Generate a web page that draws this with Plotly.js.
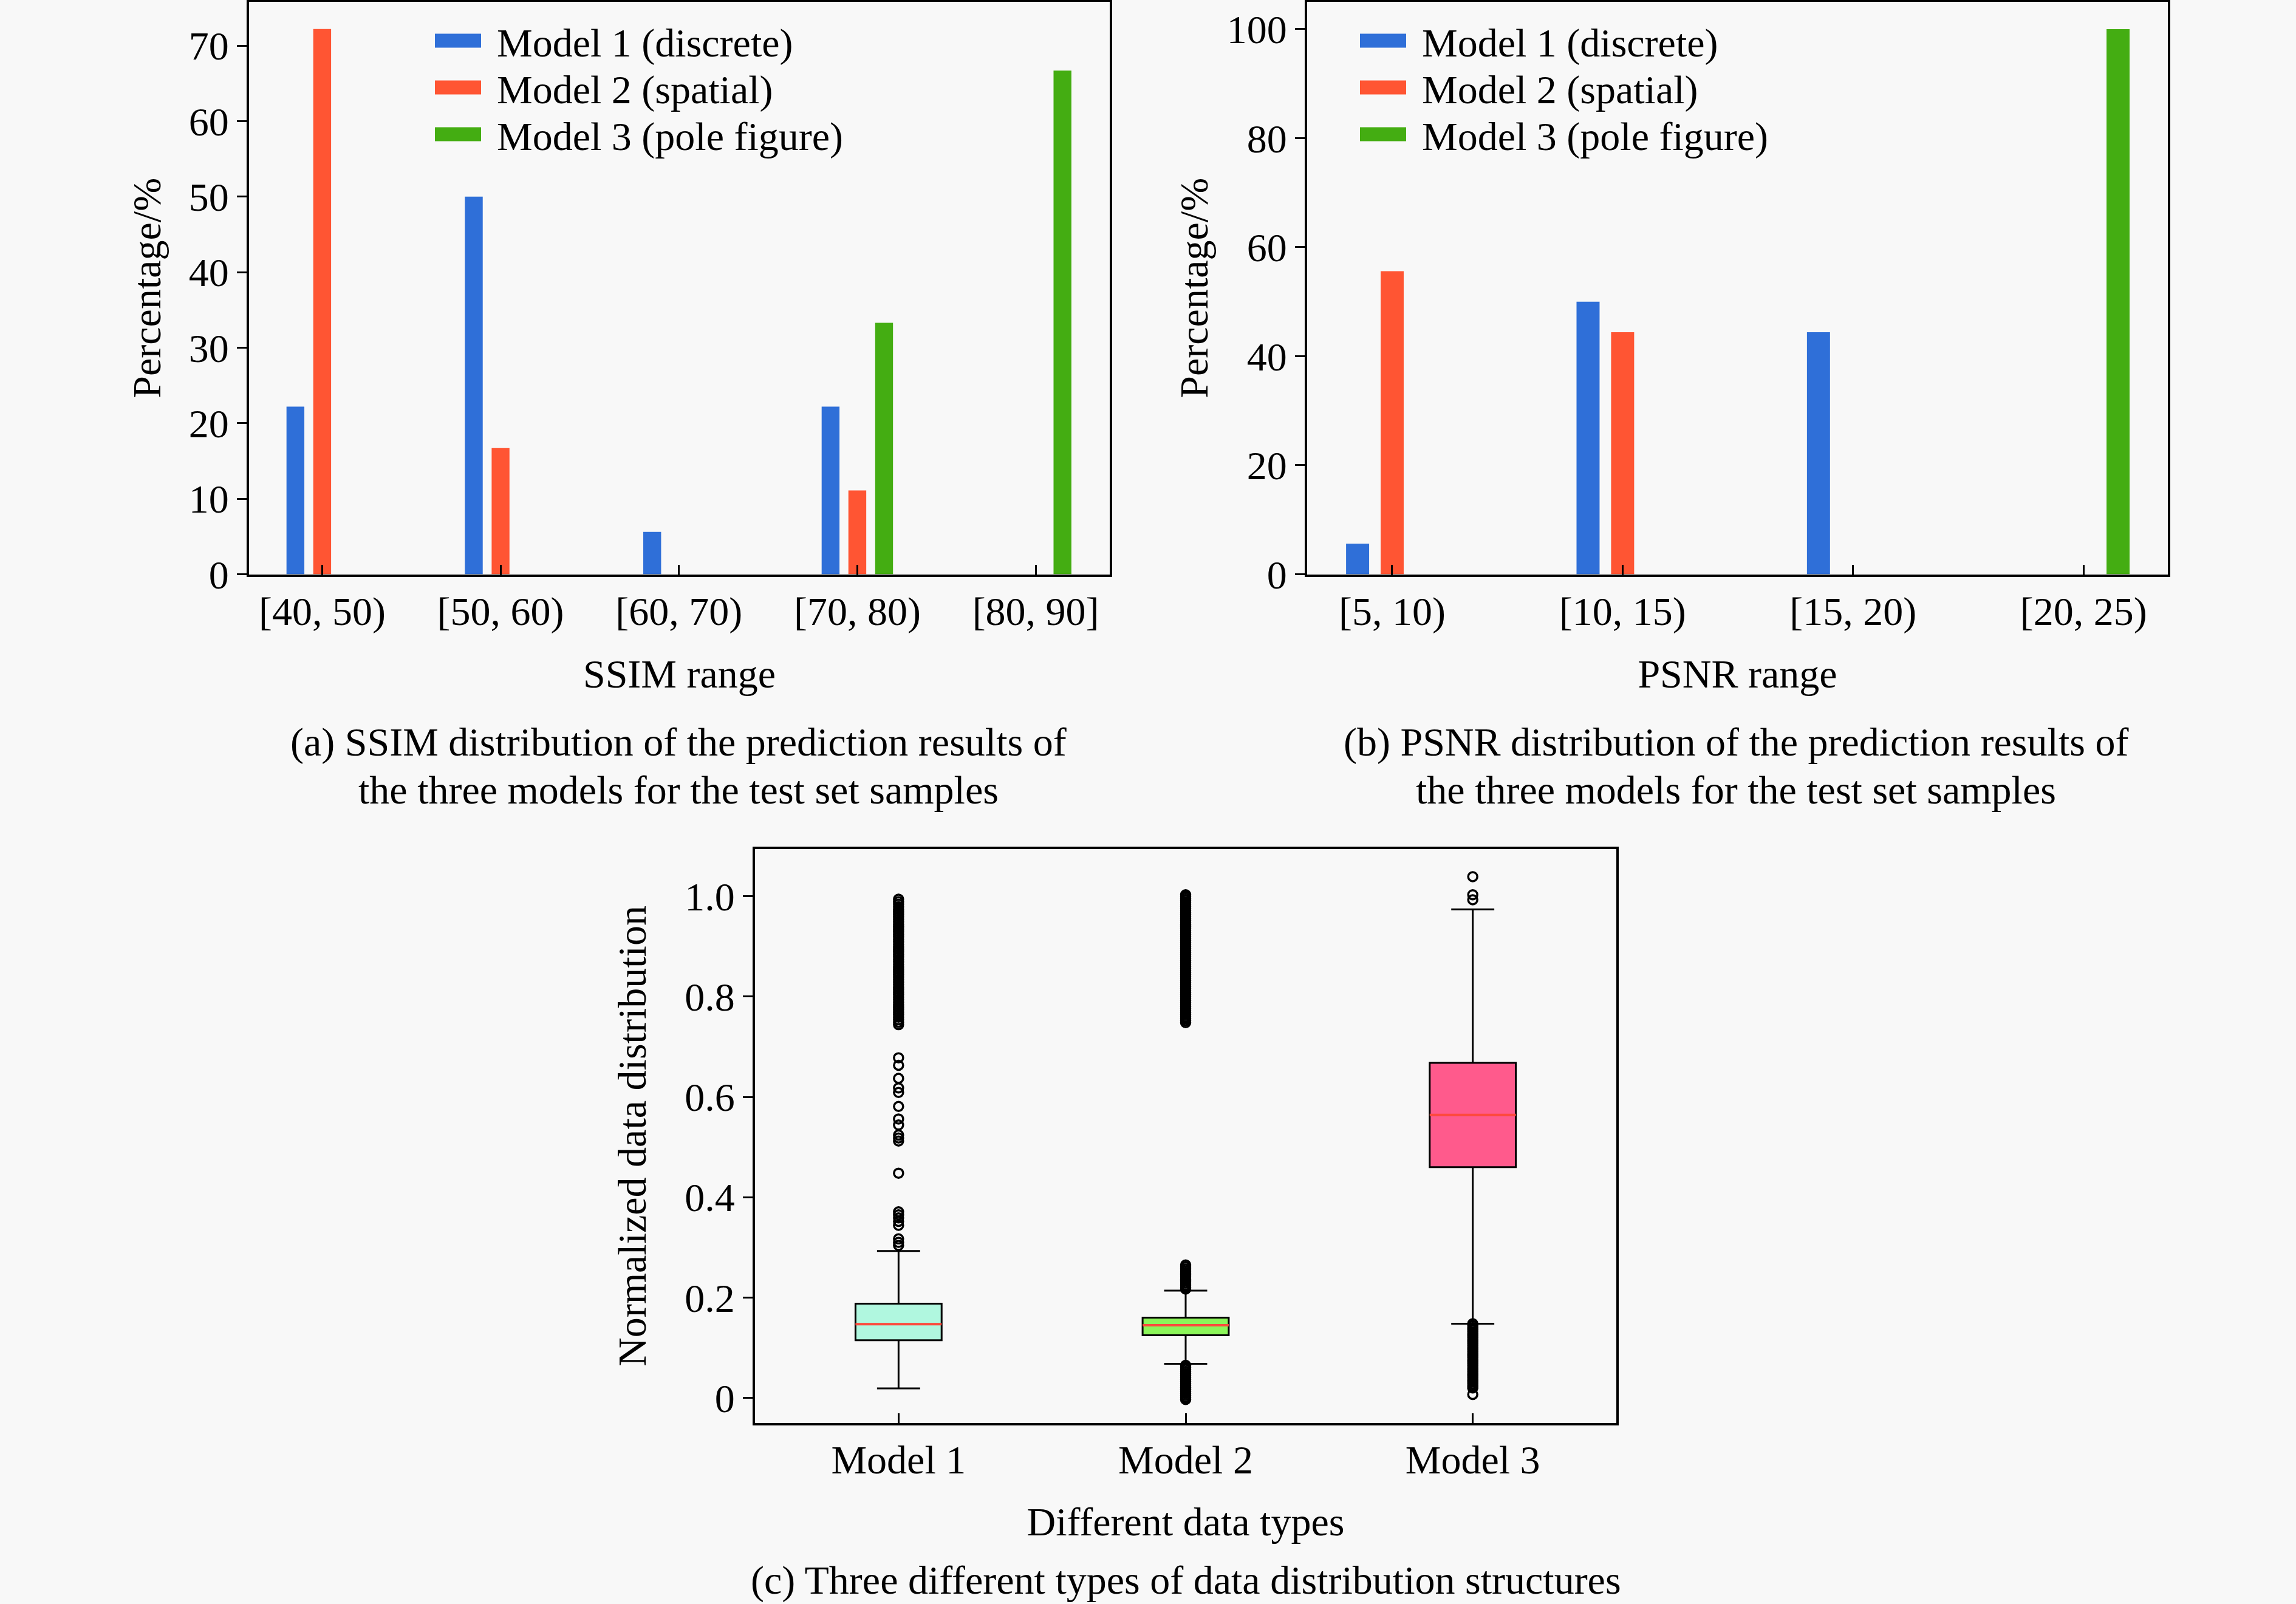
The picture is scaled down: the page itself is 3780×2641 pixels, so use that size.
<!DOCTYPE html>
<html>
<head>
<meta charset="utf-8">
<script src="https://cdn.plot.ly/plotly-3.0.1.min.js"></script>
<style>
  html, body { margin: 0; padding: 0; background: #f8f8f8; }
  #chart { width: 3780px; height: 2641px; }
</style>
</head>
<body>
<div id="chart"></div>
<script>
// (a) SSIM distribution, percentage of test samples per range
const ssimRanges = ["[40, 50)", "[50, 60)", "[60, 70)", "[70, 80)", "[80, 90]"];
const ssimModel1 = [22.2, 50.0, 5.6, 22.2, 0];
const ssimModel2 = [72.2, 16.7, 0, 11.1, 0];
const ssimModel3 = [0, 0, 0, 33.3, 66.7];

// (b) PSNR distribution
const psnrRanges = ["[5, 10)", "[10, 15)", "[15, 20)", "[20, 25)"];
const psnrModel1 = [5.6, 50.0, 44.4, 0];
const psnrModel2 = [55.6, 44.4, 0, 0];
const psnrModel3 = [0, 0, 0, 100];

const seriesNames = ["Model 1 (discrete)", "Model 2 (spatial)", "Model 3 (pole figure)"];

// (c) box plot statistics
const models = ["Model 1", "Model 2", "Model 3"];
const boxQ1 = [0.115, 0.125, 0.460];
const boxMedian = [0.147, 0.145, 0.564];
const boxQ3 = [0.188, 0.160, 0.668];
const boxLower = [0.019, 0.068, 0.148];
const boxUpper = [0.293, 0.214, 0.974];

// outliers (the solid black bands are many overlapping points)
const model1Outliers = [0.304, 0.310, 0.317, 0.344, 0.352, 0.359, 0.365, 0.371,
  0.448, 0.512, 0.518, 0.524, 0.544, 0.556, 0.581, 0.609, 0.618, 0.637, 0.663, 0.678,
  0.744, 0.749, 0.754, 0.759, 0.764, 0.769, 0.774, 0.779, 0.784, 0.789, 0.794, 0.799,
  0.804, 0.809, 0.814, 0.819, 0.824, 0.829, 0.834, 0.839, 0.844, 0.849, 0.854, 0.859,
  0.864, 0.869, 0.874, 0.879, 0.884, 0.889, 0.894, 0.899, 0.904, 0.909, 0.914, 0.919,
  0.924, 0.929, 0.934, 0.939, 0.944, 0.949, 0.954, 0.959, 0.964, 0.969, 0.974, 0.979,
  0.984, 0.989, 0.994];
const model2Outliers = [-0.003, 0.001, 0.005, 0.009, 0.013, 0.017, 0.021, 0.025,
  0.029, 0.033, 0.037, 0.041, 0.045, 0.049, 0.053, 0.057, 0.061, 0.065,
  0.217, 0.221, 0.225, 0.229, 0.233, 0.237, 0.241, 0.245, 0.249, 0.253, 0.257, 0.261, 0.265,
  0.748, 0.752, 0.756, 0.760, 0.764, 0.768, 0.772, 0.776, 0.780, 0.784, 0.788, 0.792,
  0.796, 0.800, 0.804, 0.808, 0.812, 0.816, 0.820, 0.824, 0.828, 0.832, 0.836, 0.840,
  0.844, 0.848, 0.852, 0.856, 0.860, 0.864, 0.868, 0.872, 0.876, 0.880, 0.884, 0.888,
  0.892, 0.896, 0.900, 0.904, 0.908, 0.912, 0.916, 0.920, 0.924, 0.928, 0.932, 0.936,
  0.940, 0.944, 0.948, 0.952, 0.956, 0.960, 0.964, 0.968, 0.972, 0.976, 0.980, 0.984,
  0.988, 0.992, 0.996, 1.000, 1.003];
const model3Outliers = [0.007, 0.020, 0.024, 0.028, 0.032, 0.036, 0.040, 0.044,
  0.048, 0.052, 0.056, 0.060, 0.064, 0.068, 0.072, 0.076, 0.080, 0.084, 0.088, 0.092,
  0.096, 0.100, 0.104, 0.108, 0.112, 0.116, 0.120, 0.124, 0.128, 0.132, 0.136, 0.140,
  0.144, 0.148, 0.993, 1.003, 1.039];

const barColors = ["#2f6fd8", "#ff5533", "#44ad12"];
const boxColors = ["#b0f7df", "#8cf55a", "#ff5a8c"];
const medianColor = "#ff4a3d";

const serif = "Liberation Serif, Times New Roman, serif";
const W = 3780, H = 2641;

// pixel helpers for domains
function xd(left, right) { return [left / W, right / W]; }
function yd(bottom, top) { return [(H - bottom) / H, (H - top) / H]; }

const traces = [];

// every legend row is its own legend so the rows keep the original spacing
const ssimSeries = [ssimModel1, ssimModel2, ssimModel3];
const psnrSeries = [psnrModel1, psnrModel2, psnrModel3];
for (let i = 0; i < 3; i++) {
  traces.push({
    type: "bar", x: ssimRanges, y: ssimSeries[i], name: seriesNames[i],
    xaxis: "x", yaxis: "y", legend: i == 0 ? "legend" : "legend" + (i + 1),
    marker: {color: barColors[i], line: {width: 0}}, hoverinfo: "skip"
  });
}
for (let i = 0; i < 3; i++) {
  traces.push({
    type: "bar", x: psnrRanges, y: psnrSeries[i], name: seriesNames[i],
    xaxis: "x2", yaxis: "y2", legend: "legend" + (i + 4),
    marker: {color: barColors[i], line: {width: 0}}, hoverinfo: "skip"
  });
}

// boxes, one trace per model so each gets its own fill
for (let i = 0; i < 3; i++) {
  traces.push({
    type: "box", xaxis: "x3", yaxis: "y3", x: [models[i]],
    q1: [boxQ1[i]], median: [boxMedian[i]], q3: [boxQ3[i]],
    lowerfence: [boxLower[i]], upperfence: [boxUpper[i]],
    width: 0.3, whiskerwidth: 0.5, fillcolor: boxColors[i],
    line: {color: "#000", width: 3}, boxpoints: false,
    showlegend: false, hoverinfo: "skip"
  });
}
// red median lines drawn as flat boxes on top
traces.push({
  type: "box", xaxis: "x3", yaxis: "y3", x: models,
  q1: boxMedian, median: boxMedian, q3: boxMedian,
  lowerfence: boxMedian, upperfence: boxMedian,
  width: 0.3, whiskerwidth: 0, fillcolor: "rgba(0,0,0,0)",
  line: {color: medianColor, width: 4}, boxpoints: false,
  showlegend: false, hoverinfo: "skip"
});
const outlierSets = [model1Outliers, model2Outliers, model3Outliers];
for (let i = 0; i < 3; i++) {
  traces.push({
    type: "scatter", mode: "markers", xaxis: "x3", yaxis: "y3",
    x: outlierSets[i].map(() => models[i]), y: outlierSets[i],
    marker: {symbol: "circle-open", size: 15, color: "#000", line: {width: 3.5}},
    showlegend: false, hoverinfo: "skip"
  });
}

const tickFont = {family: serif, size: 66, color: "#000"};
const baseAxis = {
  showline: true, mirror: true, linecolor: "#000", linewidth: 4,
  showgrid: false, zeroline: false, tickfont: tickFont,
  tickcolor: "#000", tickwidth: 3, ticklen: 16
};

function title(text, standoff) {
  return {text: text, font: tickFont, standoff: standoff};
}

function legendAt(left, top) {
  return {
    font: tickFont, bgcolor: "rgba(0,0,0,0)", borderwidth: 0,
    xanchor: "left", yanchor: "top", itemwidth: 118,
    x: left / W, y: 1 - top / H
  };
}

const layout = {
  width: W, height: H,
  margin: {l: 0, r: 0, t: 0, b: 0},
  paper_bgcolor: "#f8f8f8", plot_bgcolor: "#f8f8f8",
  font: tickFont,
  barmode: "group", bargap: 0.55, bargroupgap: 0.333,
  xaxis: Object.assign({}, baseAxis, {
    domain: xd(410, 1827), anchor: "y", type: "category",
    range: [-0.41, 4.415], ticks: "inside", title: title("SSIM range", 44)
  }),
  yaxis: Object.assign({}, baseAxis, {
    domain: yd(945.5, 3), anchor: "x", range: [0, 75.8], dtick: 10,
    ticks: "outside", title: title("Percentage/%", 26)
  }),
  xaxis2: Object.assign({}, baseAxis, {
    domain: xd(2152, 3569), anchor: "y2", type: "category",
    range: [-0.369, 3.366], ticks: "inside", title: title("PSNR range", 44)
  }),
  yaxis2: Object.assign({}, baseAxis, {
    domain: yd(945.5, 3), anchor: "x2", range: [0, 105], dtick: 20,
    ticks: "outside", title: title("Percentage/%", 11)
  }),
  xaxis3: Object.assign({}, baseAxis, {
    domain: xd(1243, 2661), anchor: "y3", type: "category",
    categoryorder: "array", categoryarray: models,
    range: [-0.5, 2.5], ticks: "inside", title: title("Different data types", 44)
  }),
  yaxis3: Object.assign({}, baseAxis, {
    domain: yd(2343, 1398), anchor: "x3", range: [-0.05, 1.094],
    tickvals: [0, 0.2, 0.4, 0.6, 0.8, 1.0],
    ticktext: ["0", "0.2", "0.4", "0.6", "0.8", "1.0"],
    ticks: "outside", title: title("Normalized data distribution", 43)
  }),
  legend: legendAt(690, 17.5),
  legend2: legendAt(690, 94.5),
  legend3: legendAt(690, 171.5),
  legend4: legendAt(2213, 17.5),
  legend5: legendAt(2213, 94.5),
  legend6: legendAt(2213, 171.5),
  annotations: [
    {text: "(a) SSIM distribution of the prediction results of", x: 1117 / W, y: 1 - 1222 / H},
    {text: "the three models for the test set samples", x: 1117 / W, y: 1 - 1300 / H},
    {text: "(b) PSNR distribution of the prediction results of", x: 2858 / W, y: 1 - 1222 / H},
    {text: "the three models for the test set samples", x: 2858 / W, y: 1 - 1300 / H},
    {text: "(c) Three different types of data distribution structures", x: 1952 / W, y: 1 - 2602 / H}
  ].map(a => Object.assign(a, {
    xref: "paper", yref: "paper", xanchor: "center", yanchor: "middle",
    showarrow: false, font: tickFont
  }))
};

Plotly.newPlot("chart", traces, layout, {displayModeBar: false, staticPlot: true}).then(function() {
  // make the bar legend swatches wide and flat like the original
  document.querySelectorAll(".legendpoints path").forEach(function(p) {
    p.setAttribute("d", "M38,11.5H-38V-11.5H38Z");
  });
});
</script>
</body>
</html>
